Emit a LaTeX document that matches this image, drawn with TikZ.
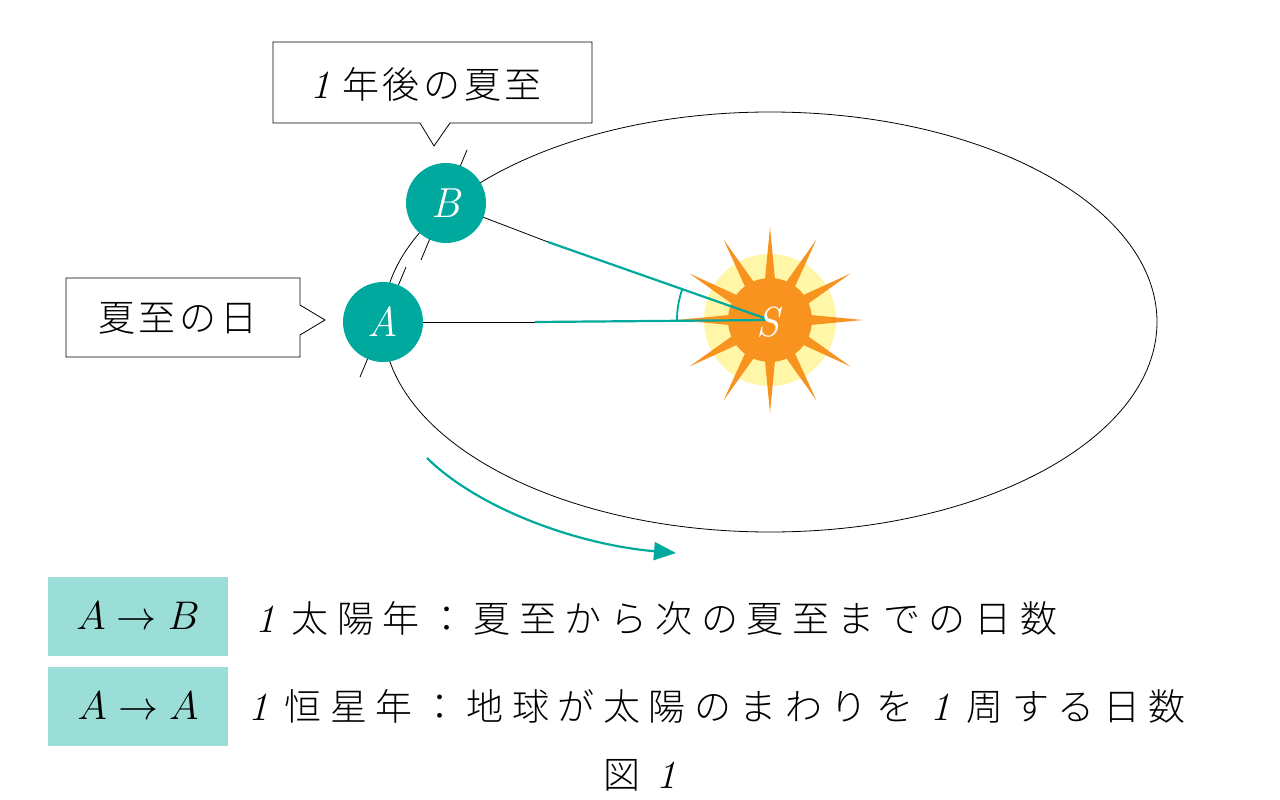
\documentclass[tikz,border=0pt]{standalone}
\usepackage{fix-cm}
\usepackage{fontspec}
\newfontfamily\cjk[LetterSpace=23]{Noto Sans CJK JP Light}
\newfontfamily\cjkc[LetterSpace=10]{Noto Sans CJK JP Light}
\usetikzlibrary{arrows.meta,calc}
\definecolor{teal1}{HTML}{00A99D}
\definecolor{teal2}{HTML}{9BDED8}
\definecolor{sunor}{HTML}{F7931E}
\definecolor{sunye}{HTML}{FFF6A8}
\newcommand{\one}{{\rmfamily\itshape\fontsize{40}{40}\selectfont 1}}
\tikzset{planet/.style={circle,fill=teal1,minimum size=80pt,inner sep=0pt,text=white,font=\fontsize{42}{44}\selectfont\itshape},
 cjkt/.style={font=\cjk\fontsize{37}{40}\selectfont,anchor=west,inner sep=0pt},
 cjkb/.style={font=\cjkc\fontsize{37}{40}\selectfont,anchor=west,inner sep=0pt},
 lbox/.style={fill=teal2,minimum width=180pt,minimum height=79pt,inner sep=0pt,font=\fontsize{40}{42}\selectfont},
 teal line/.style={teal1,line width=2.2pt}}
\begin{document}
\begin{tikzpicture}[x=1pt,y=-1pt]
\useasboundingbox (0,0) rectangle (1280,800);
% orbit
\draw[line width=0.8pt] (770,322) ellipse [x radius=387, y radius=210];
% sun
\coordinate (S) at (770,320);
\fill[sunye] (S) circle (66);
\foreach \a in {0,30,...,330}{
 \fill[sunor] ($(S)+(\a:93)$) -- ($(S)+(\a+8:38)$) -- ($(S)+(\a-8:38)$) -- cycle;}
\fill[sunor] (S) circle (42);
% ticks
\draw[line width=0.8pt] ($(383,322)+(-23,55)$) -- ($(383,322)+(23,-55)$);
\draw[line width=0.8pt] ($(444,205)+(-23,55)$) -- ($(444,205)+(23,-55)$);
\coordinate (Am) at (535,322);
\coordinate (Bm) at (548,242);
\draw[line width=0.8pt] (383,322) -- (Am);
\draw[line width=0.8pt] (446,203) -- (Bm);
\node[planet] (A) at (383,322) {A};
\node[planet] (B) at (446,203) {B};
\draw[teal line] (Am) -- (S);
\draw[teal line] (Bm) -- (S);
\draw[teal line,line width=1.8pt] ($(S)+(180:93)$) arc[start angle=-180, end angle=-160, radius=93];
\node[text=white,font=\fontsize{42}{44}\selectfont\itshape] (Sl) at (768,322) {S};
% callouts
\draw[line width=0.8pt,fill=white] (273,42) -- (592,42) -- (592,123) -- (450,123) -- (434,146) -- (420,123) -- (273,123) -- cycle;
\node[cjkb] (c1) at (310,84) {\one\ 年後の夏至};
\draw[line width=0.8pt,fill=white] (66,278) -- (300,278) -- (300,305) -- (325,320) -- (300,335) -- (300,357) -- (66,357) -- cycle;
\node[cjkb] (c2) at (98,318) {夏至の日};
% motion arrow
\coordinate (m1) at (427,458);
\coordinate (m2) at (676,553);
\draw[teal line,-{Triangle[length=22pt,width=18pt]}] (m1) .. controls (480,510) and (580,545) .. (m2);
% bottom
\node[lbox] (b1) at (138,616) {$A\rightarrow B$};
\node[lbox] (b2) at (138,706) {$A\rightarrow A$};
\node[cjkt] (t1) at (255,618) {\one\ 太陽年：夏至から次の夏至までの日数};
\node[cjkt] (t2) at (248,706) {\one\ 恒星年：地球が太陽のまわりを \one\ 周する日数};
\node[cjkt,anchor=center] (fig) at (640,775) {図 \one};
\end{tikzpicture}
\end{document}
